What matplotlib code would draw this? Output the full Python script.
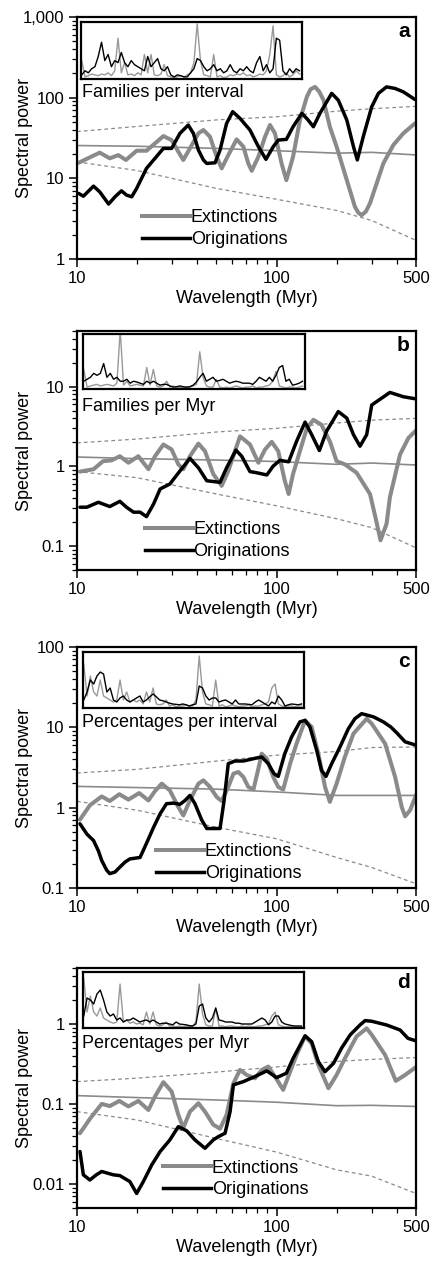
import matplotlib
matplotlib.use('Agg')
import matplotlib.pyplot as plt
from matplotlib.lines import Line2D

plt.rcParams['font.family'] = ['Liberation Sans', 'DejaVu Sans']

GREY = '#8a8a8a'

# ---- panel a : Families per interval ----
a_ext_wl = [10.2, 11.6, 13.0, 14.6, 16.1, 17.6, 19.9, 22.3, 24.6, 27.1, 29.8, 32.2, 34.1, 36.8, 40.6, 43.0, 46.4,
            50.1, 53.1, 57.3, 63.1, 68.2, 72.2, 75.1, 81.1, 87.6, 92.7, 98.2, 106, 112, 121, 131, 142, 148, 156,
            164, 172, 185, 200, 225, 247, 257, 267, 280, 294, 343, 385, 432, 494]
a_ext_pw = [15.6, 18.2, 20.8, 17.7, 19.4, 16.9, 22.0, 22.0, 27.1, 33.4, 29.8, 21.4, 16.9, 23.5, 36.1, 39.7, 32.8,
            18.5, 13.3, 19.4, 30.4, 24.7, 15.3, 12.4, 18.5, 32.8, 45.8, 36.1, 15.3, 9.5, 18.5, 52.8, 103, 127, 136,
            118, 93, 43.6, 24.7, 9.5, 4.45, 3.75, 3.5, 3.86, 4.9, 15.3, 25.9, 36.1, 48]
a_org_wl = [10.2, 10.76, 12.1, 13.0, 14.4, 15.5, 16.7, 17.7, 18.8, 19.9, 22.3, 24.6, 27.1, 29.8, 32.8, 36.1, 38.3,
            40.6, 43.0, 44.7, 49.2, 52.1, 56.2, 60.3, 65.6, 73.6, 81.1, 88.5, 96.3, 102, 112, 121, 134, 144, 153,
            165, 189, 204, 225, 243, 254, 272, 300, 324, 356, 393, 432, 494]
a_org_pw = [6.5, 6.0, 8.0, 6.8, 4.8, 5.9, 7.0, 6.2, 5.9, 7.5, 13.3, 17.7, 23.5, 23.5, 36.1, 45.8, 36.1,
            22.4, 16.9, 15.3, 15.6, 22.4, 48, 67, 55.4, 39.7, 24.7, 17.2, 24.7, 29.8, 30.4, 43.6, 63.9, 52.8, 43.6,
            63.9, 113, 93, 52.8, 24.7, 16.9, 32.8, 77.2, 113, 136, 130, 118, 95]
a_bnd_wl = [10, 20, 50, 100, 200, 300, 500]
a_mean_pw = [25.5, 25, 23.5, 22, 20.5, 21, 19.5]
a_hi_pw = [38, 44, 53, 58, 68, 73, 78]
a_lo_pw = [16, 12.5, 7.5, 5.5, 4.0, 3.0, 1.7]

# ---- panel b : Families per Myr ----
b_ext_wl = [10.35, 12.1, 13.5, 14.9, 16.4, 18.1, 20.3, 22.8, 24.6, 27.1, 29.8, 32.2, 34.1, 36.8, 40.6, 43.8, 48.2,
            53.1, 57.3, 65.6, 73.6, 81.1, 87.6, 94.6, 102, 110, 115, 121, 134, 142, 153, 168, 185, 200, 220, 252,
            294, 313, 332, 356, 370, 416, 458, 504]
b_ext_pw = [0.86, 0.92, 1.16, 1.19, 1.34, 1.11, 1.34, 0.92, 1.34, 1.88, 1.63, 1.06, 0.92, 1.34, 1.93, 1.55, 0.80,
            0.57, 0.875, 2.38, 1.88, 1.11, 1.63, 2.03, 1.55, 0.66, 0.45, 0.80, 1.88, 3.02, 3.84, 3.32, 2.06, 1.16,
            1.06, 0.83, 0.45, 0.23, 0.118, 0.19, 0.41, 1.41, 2.27, 2.88]
b_org_wl = [10.35, 11.2, 12.8, 14.6, 16.4, 17.7, 19.2, 20.7, 22.3, 24.2, 26.1, 29.2, 32.8, 36.8, 40.6, 44.7, 52.1,
            56.2, 62.6, 66.9, 73.6, 79.7, 89.4, 96.3, 104, 115, 126, 139, 150, 164, 178, 204, 225, 243, 262, 283,
            300, 370, 432, 504]
b_org_pw = [0.307, 0.307, 0.354, 0.313, 0.364, 0.307, 0.266, 0.266, 0.234, 0.337, 0.52, 0.60, 0.875, 1.26, 0.96,
            0.66, 0.63, 0.96, 1.60, 1.34, 0.86, 0.83, 0.78, 1.01, 1.19, 1.14, 2.06, 3.59, 2.5, 1.58, 2.75, 4.87,
            4.03, 2.5, 1.79, 2.5, 5.89, 8.47, 7.48, 7.0]
b_bnd_wl = [10, 20, 50, 100, 200, 300, 500]
b_mean_pw = [1.31, 1.25, 1.2, 1.15, 1.06, 1.1, 1.04]
b_hi_pw = [1.97, 2.2, 2.7, 3.0, 3.5, 3.8, 4.0]
b_lo_pw = [0.86, 0.72, 0.45, 0.32, 0.22, 0.17, 0.095]

# ---- panel c : Percentages per interval ----
c_ext_wl = [10.35, 11.6, 13.3, 14.6, 16.3, 18.1, 20.5, 22.8, 24.6, 26.6, 29.2, 32.2, 34.1, 36.8, 40.6, 43.0, 46.4,
            50.1, 53.1, 57.3, 60.8, 64.4, 68.2, 72.2, 76.6, 81.1, 84.3, 89.4, 96.3, 102, 108, 117, 126, 139, 150,
            162, 175, 185, 200, 220, 243, 283, 300, 350, 393, 424, 441, 467, 504]
c_ext_pw = [0.71, 1.07, 1.38, 1.21, 1.47, 1.26, 1.52, 1.23, 1.61, 1.99, 1.64, 1.02, 0.80, 1.23, 1.99, 2.19, 1.81,
            1.36, 1.21, 1.81, 2.65, 2.78, 2.41, 1.81, 1.68, 3.06, 4.7, 4.07, 2.41, 1.81, 1.68, 3.53, 6.27, 12.2, 10.1,
            4.7, 1.81, 1.18, 1.99, 4.28, 8.35, 12.8, 11.1, 6.27, 2.41, 1.02, 0.78, 0.93, 1.5]
c_org_wl = [10.35, 11.2, 12.1, 12.8, 13.3, 14.1, 14.6, 15.5, 16.4, 17.4, 18.4, 20.7, 22.3, 24.2, 26.1, 28.1, 30.4,
            32.8, 34.8, 36.8, 39.0, 42.2, 44.7, 52.1, 54.6, 57.3, 61.9, 68.2, 76.6, 84.3, 90.9, 97.1, 102, 110, 119,
            131, 139, 147, 159, 168, 177, 189, 208, 229, 247, 267, 306, 343, 374, 404, 441, 504]
c_org_pw = [0.63, 0.47, 0.39, 0.29, 0.22, 0.166, 0.151, 0.158, 0.182, 0.21, 0.23, 0.24, 0.36, 0.57, 0.84, 1.12,
            1.14, 1.10, 1.23, 1.42, 1.12, 0.70, 0.55, 0.55, 1.23, 3.53, 3.81, 3.81, 4.07, 4.28, 3.53, 2.65, 2.45,
            4.7, 7.6, 11.7, 12.2, 10.1, 5.17, 2.92, 2.45, 3.53, 5.7, 9.6, 12.8, 14.8, 13.5, 11.7, 10.1, 8.35, 6.6,
            5.97]
c_bnd_wl = [10, 20, 50, 100, 200, 300, 500]
c_mean_pw = [1.84, 1.78, 1.7, 1.57, 1.42, 1.42, 1.42]
c_hi_pw = [2.7, 3.0, 3.8, 4.5, 5.0, 5.6, 5.7]
c_lo_pw = [1.2, 0.93, 0.57, 0.41, 0.24, 0.18, 0.113]

# ---- panel d : Percentages per Myr ----
d_ext_wl = [10.35, 11.6, 13.3, 14.6, 16.3, 18.1, 20.3, 22.8, 24.6, 27.1, 29.8, 32.2, 34.1, 36.8, 40.6, 43.8, 48.2,
            52.1, 56.2, 60.8, 65.6, 70.9, 78.0, 84.3, 90.9, 98.2, 108, 117, 126, 139, 150, 162, 182, 200, 220, 252,
            283, 300, 350, 396, 441, 504]
d_ext_pw = [0.043, 0.065, 0.100, 0.094, 0.109, 0.093, 0.109, 0.084, 0.124, 0.187, 0.143, 0.073, 0.050, 0.080,
            0.102, 0.080, 0.055, 0.049, 0.073, 0.181, 0.266, 0.230, 0.209, 0.266, 0.293, 0.22, 0.150, 0.253, 0.41,
            0.70, 0.57, 0.307, 0.157, 0.230, 0.37, 0.70, 0.88, 0.73, 0.41, 0.194, 0.23, 0.293]
d_org_wl = [10.35, 10.76, 11.6, 12.5, 13.3, 15.2, 16.4, 18.4, 19.9, 21.5, 23.7, 26.1, 29.2, 32.2, 35.5, 39.0, 43.8,
            48.2, 51.1, 55.2, 58.5, 60.8, 68.2, 78.0, 89.4, 100, 112, 121, 139, 150, 162, 175, 193, 212, 234, 262,
            278, 300, 356, 416, 456, 504]
d_org_pw = [0.0254, 0.013, 0.0112, 0.013, 0.0143, 0.013, 0.0127, 0.0107, 0.0076, 0.0107, 0.0173, 0.0254, 0.0355,
            0.052, 0.046, 0.0355, 0.0279, 0.0355, 0.039, 0.043, 0.080, 0.173, 0.19, 0.22, 0.259, 0.213, 0.242, 0.37,
            0.71, 0.60, 0.338, 0.253, 0.322, 0.50, 0.73, 0.97, 1.1, 1.08, 0.97, 0.84, 0.66, 0.61]
d_bnd_wl = [10, 20, 50, 100, 200, 300, 500]
d_mean_pw = [0.127, 0.12, 0.112, 0.105, 0.095, 0.096, 0.093]
d_hi_pw = [0.19, 0.21, 0.25, 0.29, 0.34, 0.36, 0.38]
d_lo_pw = [0.08, 0.063, 0.037, 0.025, 0.015, 0.0125, 0.0076]

# ---- inset time series (relative heights) ----
ins_t = list(range(10, 680, 10))
ins_a_grey = [45, 5, 8, 12, 10, 8, 12, 10, 15, 8, 20, 100, 15, 40, 10, 12, 8, 15, 10, 60, 15, 60, 10, 8, 12, 35, 8, 5,
              3, 5, 8, 5, 10, 15, 40, 135, 45, 10, 8, 5, 60, 5, 8, 3, 5, 10, 8, 12, 10, 15, 8, 10, 5, 8, 12, 10, 20,
              60, 130, 10, 5, 8, 15, 5, 10, 20, 12]
ins_a_black = [10, 20, 15, 25, 30, 55, 90, 45, 60, 30, 45, 40, 65, 40, 30, 45, 35, 30, 25, 20, 55, 30, 40, 50, 25, 20,
               30, 10, 5, 10, 8, 5, 5, 15, 25, 50, 45, 30, 20, 25, 35, 20, 25, 15, 20, 35, 20, 15, 25, 20, 30, 20, 15,
               40, 55, 20, 35, 15, 25, 100, 95, 20, 10, 25, 15, 25, 20]
ins_b_grey = [50, 5, 8, 10, 12, 8, 10, 12, 10, 8, 15, 150, 10, 20, 8, 10, 12, 10, 8, 55, 10, 50, 8, 5, 8, 20, 5, 8, 3,
              5, 3, 5, 5, 8, 12, 95, 30, 8, 5, 5, 25, 5, 3, 5, 3, 5, 8, 5, 3, 5, 5, 8, 3, 5, 5, 8, 10, 20, 45, 8, 5,
              3, 5, 5, 3, 5, 8]
ins_b_black = [20, 25, 30, 40, 35, 40, 65, 30, 40, 25, 30, 20, 20, 25, 15, 20, 18, 15, 12, 20, 15, 20, 15, 10, 12, 12,
               8, 5, 6, 8, 6, 5, 6, 10, 18, 30, 40, 20, 25, 30, 20, 22, 25, 20, 15, 18, 20, 18, 15, 15, 15, 12, 20, 30,
               25, 20, 30, 20, 35, 55, 60, 20, 25, 10, 12, 15, 20]
ins_c_grey = [110, 30, 80, 40, 30, 70, 30, 25, 20, 15, 20, 70, 20, 40, 15, 20, 15, 20, 10, 40, 15, 50, 10, 8, 10, 20,
              5, 8, 3, 5, 5, 8, 5, 5, 20, 130, 40, 10, 8, 5, 70, 5, 8, 3, 5, 8, 5, 3, 5, 5, 8, 3, 5, 5, 8, 10, 15, 50,
              60, 10, 5, 3, 5, 5, 3, 5, 5]
ins_c_black = [20, 40, 70, 60, 80, 90, 85, 40, 50, 20, 15, 25, 30, 20, 15, 20, 25, 30, 15, 20, 28, 35, 28, 20, 18, 15,
               12, 10, 9, 8, 10, 8, 5, 8, 10, 55, 50, 30, 20, 25, 25, 15, 18, 20, 15, 10, 20, 10, 10, 10, 9, 8, 15,
               20, 15, 10, 5, 15, 10, 30, 20, 5, 8, 10, 9, 8, 10]
ins_d_grey = [125, 40, 80, 40, 30, 50, 25, 20, 15, 12, 15, 110, 15, 20, 12, 15, 10, 12, 8, 40, 10, 40, 8, 5, 8, 15,
              5, 5, 3, 5, 3, 5, 3, 5, 15, 110, 35, 8, 5, 5, 50, 5, 5, 3, 5, 5, 3, 3, 5, 3, 5, 3, 3, 5, 5, 8, 10, 30,
              40, 8, 5, 3, 3, 3, 3, 3, 3]
ins_d_black = [30, 75, 70, 60, 85, 95, 70, 40, 30, 35, 20, 25, 15, 20, 20, 25, 20, 15, 18, 20, 15, 20, 15, 10, 12, 12,
               10, 8, 15, 10, 9, 8, 6, 5, 10, 55, 60, 25, 15, 25, 50, 20, 18, 15, 15, 15, 12, 12, 10, 10, 10, 10, 15,
               20, 25, 20, 8, 15, 30, 30, 15, 10, 8, 6, 5, 5, 5]

panels = [
    dict(letter='a', title='Families per interval', ylim=(1, 1000),
         yt=[1, 10, 100, 1000], ytl=['1', '10', '100', '1,000'],
         ext=(a_ext_wl, a_ext_pw), org=(a_org_wl, a_org_pw),
         bnd=(a_bnd_wl, a_mean_pw, a_hi_pw, a_lo_pw), ins=(ins_a_grey, ins_a_black),
         rect=[77, 17, 259], ins_box=(0.012, 0.744, 0.652, 0.236), leg=(0.192, 0.205)),
    dict(letter='b', title='Families per Myr', ylim=(0.05, 50),
         yt=[0.1, 1, 10], ytl=['0.1', '1', '10'],
         ext=(b_ext_wl, b_ext_pw), org=(b_org_wl, b_org_pw),
         bnd=(b_bnd_wl, b_mean_pw, b_hi_pw, b_lo_pw), ins=(ins_b_grey, ins_b_black),
         rect=[77, 331, 570], ins_box=(0.018, 0.757, 0.655, 0.230), leg=(0.2, 0.203)),
    dict(letter='c', title='Percentages per interval', ylim=(0.1, 100),
         yt=[0.1, 1, 10, 100], ytl=['0.1', '1', '10', '100'],
         ext=(c_ext_wl, c_ext_pw), org=(c_org_wl, c_org_pw),
         bnd=(c_bnd_wl, c_mean_pw, c_hi_pw, c_lo_pw), ins=(ins_c_grey, ins_c_black),
         rect=[77, 647, 888], ins_box=(0.018, 0.747, 0.652, 0.232), leg=(0.233, 0.185)),
    dict(letter='d', title='Percentages per Myr', ylim=(0.005, 5),
         yt=[0.01, 0.1, 1], ytl=['0.01', '0.1', '1'],
         ext=(d_ext_wl, d_ext_pw), org=(d_org_wl, d_org_pw),
         bnd=(d_bnd_wl, d_mean_pw, d_hi_pw, d_lo_pw), ins=(ins_d_grey, ins_d_black),
         rect=[77, 968, 1208], ins_box=(0.018, 0.75, 0.652, 0.233), leg=(0.254, 0.202)),
]

W, H = 436, 1261
fig = plt.figure(figsize=(W / 100, H / 100), dpi=100)

for p in panels:
    left, top, bottom = p['rect']
    h = bottom - top
    ax = fig.add_axes([left / W, 1 - bottom / H, 339 / W, h / H])
    ax.set_xscale('log')
    ax.set_yscale('log')

    wl, mean, hi, lo = p['bnd']
    ax.plot(wl, mean, color=GREY, lw=1.2)
    ax.plot(wl, hi, color=GREY, lw=0.9, dashes=(3, 2.5))
    ax.plot(wl, lo, color=GREY, lw=0.9, dashes=(3, 2.5))
    ax.plot(*p['ext'], color=GREY, lw=2.9, solid_joinstyle='round', solid_capstyle='round')
    ax.plot(*p['org'], color='black', lw=2.5, solid_joinstyle='round', solid_capstyle='round')

    ax.set_xlim(10, 500)
    ax.set_ylim(*p['ylim'])
    ax.set_xticks([10, 100, 500])
    ax.set_xticklabels(['10', '100', '500'])
    ax.set_xticks([20, 30, 40, 50, 60, 70, 80, 90, 200, 300, 400], minor=True)
    ax.set_xticklabels([], minor=True)
    ax.set_yticks(p['yt'])
    ax.set_yticklabels(p['ytl'])
    ax.tick_params(which='major', length=6, width=1.1, labelsize=12, pad=3)
    ax.tick_params(which='minor', length=3.5, width=0.9)
    for s in ax.spines.values():
        s.set_linewidth(1.6)

    ax.set_xlabel('Wavelength (Myr)', fontsize=13)
    ax.xaxis.set_label_coords(0.5, -31 / h)
    ax.set_ylabel('Spectral power', fontsize=13)
    ax.yaxis.set_label_coords(-44 / 339, 0.5)

    ax.text(0.982, 0.94, p['letter'], transform=ax.transAxes, ha='right', va='center',
            fontsize=15, fontweight='bold')
    ax.text(0.015, 0.686, p['title'], transform=ax.transAxes, ha='left', va='center', fontsize=13)

    handles = [Line2D([], [], color=GREY, lw=2.9), Line2D([], [], color='black', lw=2.5)]
    ax.legend(handles, ['Extinctions', 'Originations'], loc='upper left', bbox_to_anchor=p['leg'],
              frameon=False, fontsize=13, handlelength=2.65, handletextpad=0.05,
              labelspacing=0.25, borderpad=0, borderaxespad=0)

    ins = ax.inset_axes(list(p['ins_box']))
    g, k = p['ins']
    ins.plot(ins_t, g, color='#999999', lw=1.0)
    ins.plot(ins_t, k, color='black', lw=1.0)
    ins.set_xlim(8, 678)
    ins.set_ylim(0, 140)
    ins.set_xticks([])
    ins.set_yticks([])
    for s in ins.spines.values():
        s.set_linewidth(1.6)

fig.savefig('out.png', dpi=100)
